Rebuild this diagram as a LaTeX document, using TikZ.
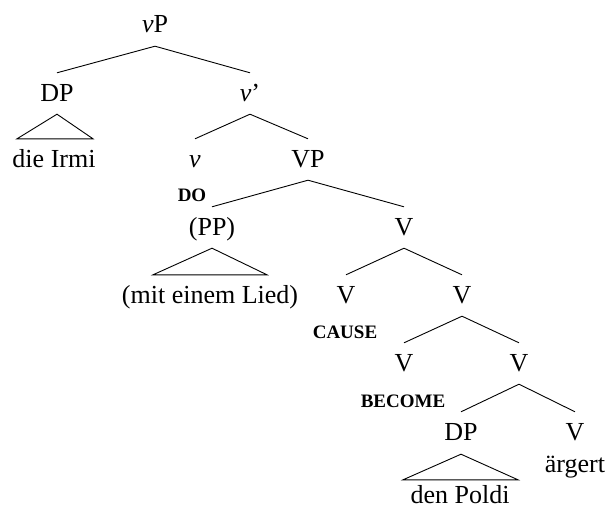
\documentclass[tikz,border=0pt]{standalone}
\usepackage{fontspec}
\setmainfont{Liberation Serif}
\usetikzlibrary{calc}
\begin{document}
\begin{tikzpicture}[x=1pt,y=-1pt,
  lab/.style={anchor=base,inner sep=0pt,text height=17pt,text depth=5pt,font=\fontsize{26}{28}\selectfont},
  sc/.style={anchor=base,inner sep=0pt,font=\fontsize{19}{20}\selectfont\bfseries},
  br/.style={line width=0.9pt,line join=miter}]
\useasboundingbox (0,0) rectangle (609,508);
% nodes
\node[lab] (vP) at (155,33) {\textit{v}P};
\node[lab] (DP) at (57,101) {DP};
\node[lab] (vbar) at (250,101) {\textit{v}’};
\node[lab] (irmi) at (54,167) {die Irmi};
\node[lab] (v) at (195,167) {\textit{v}};
\node[lab] (VP) at (308,167) {VP};
\node[sc] (do) at (192,201) {DO};
\node[lab] (PP) at (212,235) {(PP)};
\node[lab] (V1) at (404,235) {V};
\node[lab] (mit) at (210,303) {(mit einem Lied)};
\node[lab] (Vc) at (346,303) {V};
\node[lab] (V2) at (462,303) {V};
\node[sc] (cause) at (345,338) {CAUSE};
\node[lab] (Vb) at (404,371) {V};
\node[lab] (V3) at (519,371) {V};
\node[sc] (become) at (403,407) {BECOME};
\node[lab] (DP2) at (461,440) {DP};
\node[lab] (V4) at (575,440) {V};
\node[lab] (aerg) at (575,472) {ärgert};
\node[lab] (poldi) at (460,503) {den Poldi};
% branches
\foreach \p/\c in {vP/DP, vP/vbar, vbar/v, vbar/VP, VP/PP, VP/V1, V1/Vc, V1/V2, V2/Vb, V2/V3, V3/DP2, V3/V4}
  \draw[br] ([yshift=-8]\p.south) -- ([yshift=11]\c.north);
% triangles
\draw[br] ([yshift=-8]DP.south) -- ($(irmi.north)+(-37,-11)$) -- ($(irmi.north)+(39,-11)$) -- cycle;
\draw[br] ([yshift=-8]PP.south) -- ($(mit.north)+(-57,-11)$) -- ($(mit.north)+(57,-11)$) -- cycle;
\draw[br] ([yshift=-9]DP2.south) -- ($(poldi.north)+(-57,-6)$) -- ($(poldi.north)+(58,-6)$) -- cycle;
\end{tikzpicture}
\end{document}
